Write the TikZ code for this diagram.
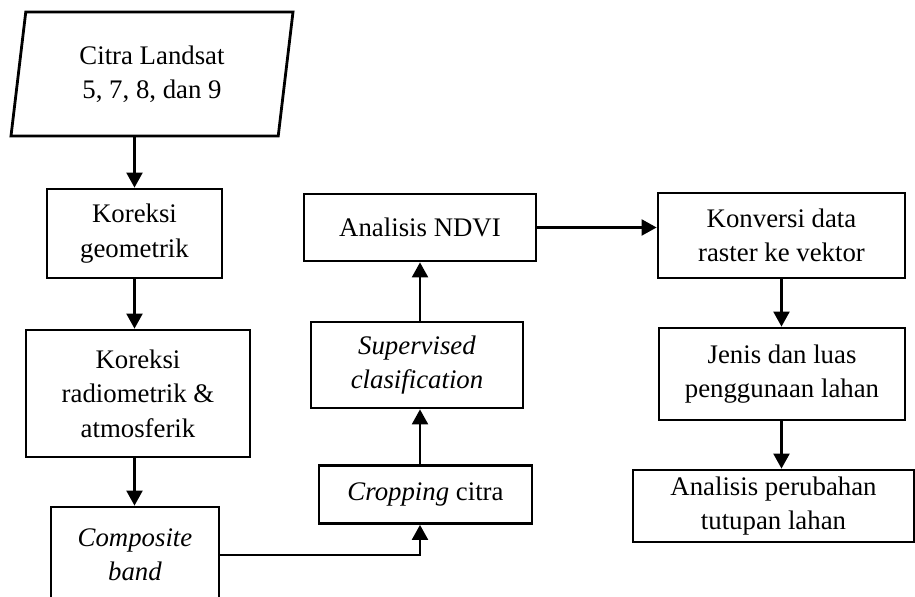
\documentclass[tikz,border=0pt]{standalone}
\usepackage{fontspec}
\setmainfont{Liberation Serif}
\usetikzlibrary{shapes.geometric, arrows.meta}

\tikzset{
    box/.style = {shape = rectangle, draw, line width = 1.4pt, align = center, inner sep = 0pt},
    flow/.style = {line width = 1.1pt, -{Triangle[length = 7.5pt, width = 8pt]}}
}

\begin{document}
\begin{tikzpicture}[x = 0.5pt, y = -0.5pt, font = \fontsize{13.4}{17.2}\selectfont]
    \clip (0,0) rectangle (915,597);
    \node[shape = trapezium, draw, line width = 1.4pt, align = center, inner sep = 0pt,
          trapezium left angle = 75.5, trapezium right angle = 104.5, trapezium stretches body,
          minimum width = 141pt, minimum height = 62pt] (data) at (152,74) {Citra Landsat\\5, 7, 8, dan 9};
    \node[box, minimum width = 87.5pt, minimum height = 44.5pt] (geo) at (134.5,233.5) {Koreksi\\geometrik};
    \node[box, minimum width = 112pt, minimum height = 63.5pt] (radio) at (138,393.5) {Koreksi\\radiometrik \&\\atmosferik};
    \node[box, minimum width = 84pt, minimum height = 48pt] (comp) at (135,555) {\textit{Composite}\\\textit{band}};
    \node[box, minimum width = 106.5pt, minimum height = 29pt] (crop) at (425.5,494.5) {\textit{Cropping} citra};
    \node[box, minimum width = 106pt, minimum height = 43pt] (sup) at (417,365) {\textit{Supervised}\\\textit{clasification}};
    \node[box, minimum width = 116pt, minimum height = 33.5pt] (ndvi) at (420,227.5) {Analisis NDVI};
    \node[box, minimum width = 123.5pt, minimum height = 42.5pt] (konv) at (781.5,235.5) {Konversi data\\raster ke vektor};
    \node[box, minimum width = 123pt, minimum height = 46pt] (jenis) at (782,374) {Jenis dan luas\\penggunaan lahan};
    \node[box, minimum width = 140.5pt, minimum height = 36pt] (anal) at (773.5,506) {Analisis perubahan\\tutupan lahan};

    % left column
    \draw[flow] (geo.north |- data.south) -- (geo.north);
    \draw[flow] (geo.south) -- (geo.south |- radio.north);
    \draw[flow] (geo.south |- radio.south) -- (geo.south |- comp.north);
    % middle column
    \draw[flow] (comp.east) -| (crop.south -| ndvi.south);
    \draw[flow] (crop.north -| ndvi.south) -- (sup.south -| ndvi.south);
    \draw[flow] (sup.north -| ndvi.south) -- (ndvi.south);
    \draw[flow] (ndvi.east) -- (ndvi.east -| konv.west);
    % right column
    \draw[flow] (konv.south) -- (konv.south |- jenis.north);
    \draw[flow] (konv.south |- jenis.south) -- (konv.south |- anal.north);
\end{tikzpicture}
\end{document}
